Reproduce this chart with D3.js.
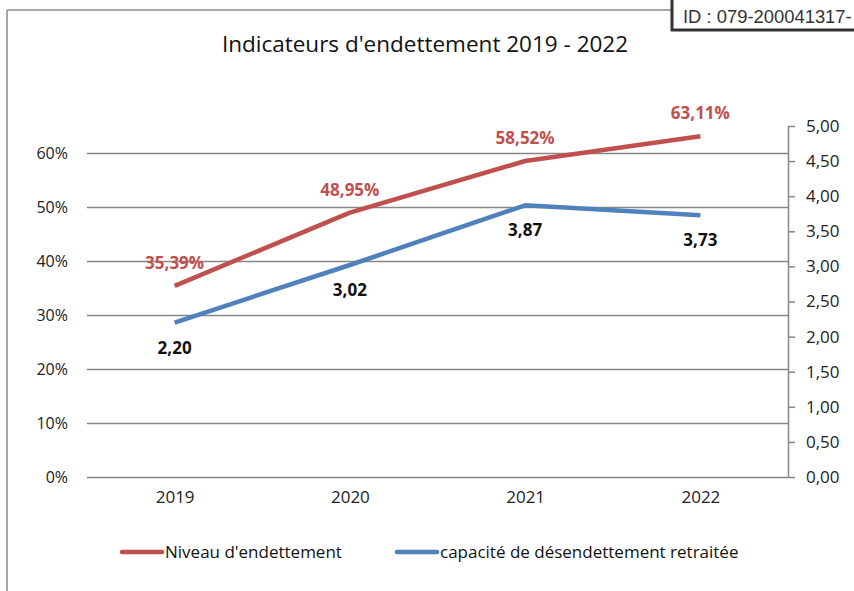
<!DOCTYPE html>
<html>
<head>
<meta charset="utf-8">
<script src="https://cdn.jsdelivr.net/npm/d3@7"></script>
<style>
  body { margin: 0; background: #fff; }
  svg { display: block; }
</style>
</head>
<body>
<div id="chart"></div>
<script>
// data
const years = ['2019', '2020', '2021', '2022'];
const niveau = [0.3539, 0.4895, 0.5852, 0.6311];
const capacite = [2.20, 3.02, 3.87, 3.73];
const leftTicks = [0, 0.1, 0.2, 0.3, 0.4, 0.5, 0.6];
const rightTicks = [0, 0.5, 1, 1.5, 2, 2.5, 3, 3.5, 4, 4.5, 5];
const seriesNames = ["Niveau d'endettement", 'capacité de désendettement retraitée'];

const width = 854, height = 591;
const plot = { left: 87, right: 788, top: 126, bottom: 477 };
const red = '#c0504d', blue = '#4f81bd', grid = '#878787';
const numFont = '"Open Sans", sans-serif';

const frFmt = d3.formatLocale({ decimal: ',', thousands: ' ', grouping: [3], currency: ['', ' €'] });
const fmt2 = frFmt.format('.2f');
const pct0 = frFmt.format('.0%');

const svg = d3.select('#chart')
  .append('svg')
  .attr('width', width)
  .attr('height', height)
  .attr('viewBox', [0, 0, width, height]);

svg.append('rect').attr('width', width).attr('height', height).attr('fill', '#fff');

const x = d3.scalePoint().domain(years).range([plot.left, plot.right]).padding(0.5);
// left axis stops at 65% so that it lines up with 5,00 on the right
const yL = d3.scaleLinear().domain([0, 0.65]).range([plot.bottom, plot.top]);
const yR = d3.scaleLinear().domain([0, 5]).range([plot.bottom, plot.top]);

// page frame bits (scan of a document)
svg.append('line')
  .attr('x1', 7).attr('x2', 672).attr('y1', 10).attr('y2', 10)
  .attr('stroke', '#8a8a8a').attr('stroke-width', 1.5);
svg.append('line')
  .attr('x1', 7).attr('x2', 7).attr('y1', 10).attr('y2', height)
  .attr('stroke', '#8a8a8a').attr('stroke-width', 1.5);

svg.append('rect')
  .attr('x', 672).attr('y', -6).attr('width', 200).attr('height', 36)
  .attr('fill', '#fff').attr('stroke', '#333').attr('stroke-width', 3);
svg.append('text')
  .attr('x', 683).attr('y', 23)
  .attr('font-family', '"Liberation Sans", Arial, sans-serif')
  .attr('font-size', 18.4).attr('fill', '#333')
  .text('ID : 079-200041317-');

// title
svg.append('text')
  .attr('x', 425).attr('y', 52)
  .attr('text-anchor', 'middle')
  .attr('font-family', numFont).attr('font-size', 22.5).attr('fill', '#111')
  .text("Indicateurs d'endettement 2019 - 2022");

// gridlines + left axis
const gLeft = svg.append('g')
  .attr('transform', `translate(${plot.left},0)`)
  .call(d3.axisLeft(yL).tickValues(leftTicks).tickFormat(pct0)
    .tickSize(-(plot.right - plot.left)).tickPadding(19));
gLeft.select('.domain').remove();
gLeft.selectAll('line').attr('stroke', grid).attr('stroke-width', 1.5);
gLeft.selectAll('text')
  .attr('font-family', numFont).attr('font-size', 16).attr('fill', '#222');

// right axis
const gRight = svg.append('g')
  .attr('transform', `translate(${plot.right},0)`)
  .call(d3.axisRight(yR).tickValues(rightTicks).tickFormat(fmt2)
    .tickSize(7).tickSizeOuter(0).tickPadding(11));
gRight.select('.domain').attr('stroke', grid).attr('stroke-width', 1.5);
gRight.selectAll('line').attr('stroke', grid).attr('stroke-width', 1.5);
gRight.selectAll('text')
  .attr('font-family', numFont).attr('font-size', 17).attr('fill', '#222');

// x labels
const gX = svg.append('g')
  .attr('transform', `translate(0,${plot.bottom})`)
  .call(d3.axisBottom(x).tickSize(0).tickPadding(14));
gX.select('.domain').remove();
gX.selectAll('text')
  .attr('font-family', numFont).attr('font-size', 17).attr('fill', '#222');

// lines
const lineL = d3.line().x((d, i) => x(years[i])).y(d => yL(d));
const lineR = d3.line().x((d, i) => x(years[i])).y(d => yR(d));

svg.append('path')
  .datum(niveau)
  .attr('d', lineL)
  .attr('fill', 'none').attr('stroke', red).attr('stroke-width', 4.5)
  .attr('stroke-linejoin', 'round');

svg.append('path')
  .datum(capacite)
  .attr('d', lineR)
  .attr('fill', 'none').attr('stroke', blue).attr('stroke-width', 4.5)
  .attr('stroke-linejoin', 'round');

// data labels
svg.append('g')
  .selectAll('text')
  .data(niveau)
  .join('text')
  .attr('x', (d, i) => x(years[i]))
  .attr('y', d => yL(d) - 17)
  .attr('text-anchor', 'middle')
  .attr('font-family', numFont).attr('font-size', 17).attr('font-weight', 'bold')
  .attr('fill', red)
  .text(d => frFmt.format('.2%')(d));

svg.append('g')
  .selectAll('text')
  .data(capacite)
  .join('text')
  .attr('x', (d, i) => x(years[i]))
  .attr('y', d => yR(d) + 31)
  .attr('text-anchor', 'middle')
  .attr('font-family', numFont).attr('font-size', 17).attr('font-weight', 'bold')
  .attr('fill', '#111')
  .text(d => fmt2(d));

// legend
const legendX = [122, 397];
const legend = svg.append('g')
  .selectAll('g')
  .data(seriesNames)
  .join('g')
  .attr('transform', (d, i) => `translate(${legendX[i]},552)`);
legend.append('line')
  .attr('x1', 0).attr('x2', 40)
  .attr('stroke', (d, i) => i === 0 ? red : blue)
  .attr('stroke-width', 4.5).attr('stroke-linecap', 'round');
legend.append('text')
  .attr('x', 43).attr('dy', '0.35em')
  .attr('font-family', numFont).attr('font-size', 17).attr('fill', '#111')
  .text(d => d);
</script>
</body>
</html>
